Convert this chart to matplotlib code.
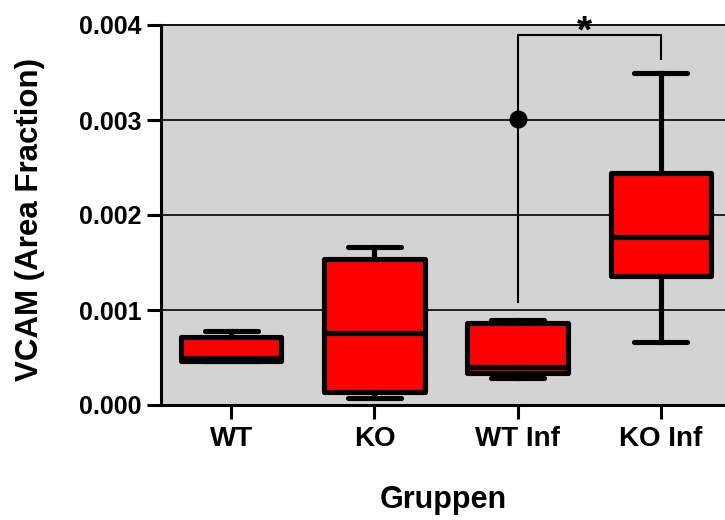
import matplotlib.pyplot as plt

plt.rcParams['font.family'] = ['Liberation Sans', 'DejaVu Sans']
plt.rcParams['font.weight'] = 'bold'

groups = ['WT', 'KO', 'WT Inf', 'KO Inf']
whis_low = [0.00046, 0.00007, 0.00028, 0.00066]
q1 = [0.00046, 0.00014, 0.00034, 0.00136]
median = [0.00050, 0.00076, 0.00040, 0.00177]
q3 = [0.00072, 0.00154, 0.00086, 0.00244]
whis_high = [0.00078, 0.00166, 0.00089, 0.00350]
outliers = [[], [], [0.00301], []]

# significance bracket between WT Inf and KO Inf
bracket_top = 0.00390
bracket_left_end = 0.00108
bracket_right_end = 0.00364

stats = []
for i, g in enumerate(groups):
    stats.append({'label': g, 'whislo': whis_low[i], 'q1': q1[i], 'med': median[i],
                  'q3': q3[i], 'whishi': whis_high[i], 'fliers': outliers[i]})

fig = plt.figure(figsize=(7.25, 5.2), dpi=100)
ax = fig.add_axes([161 / 725, 115 / 520, 564 / 725, 380 / 520])
ax.set_facecolor('#d3d3d3')

for y in [0.001, 0.002, 0.003]:
    ax.axhline(y, color='black', lw=1.2, zorder=1)

lw = 3.7
ax.bxp(stats, positions=[1, 2, 3, 4], widths=0.7, patch_artist=True,
       boxprops=dict(facecolor='red', edgecolor='black', linewidth=lw, joinstyle='round'),
       medianprops=dict(color='black', linewidth=lw),
       whiskerprops=dict(color='black', linewidth=lw),
       capprops=dict(color='black', linewidth=lw, solid_capstyle='round'),
       flierprops=dict(marker='o', markerfacecolor='black', markeredgecolor='black', markersize=12),
       capwidths=0.37, zorder=3)

ax.plot([3, 3, 4, 4], [bracket_left_end, bracket_top, bracket_top, bracket_right_end],
        color='black', lw=1.5, zorder=2, solid_joinstyle='miter')
ax.text(3.47, bracket_top + 0.00002, '*', ha='center', va='center', fontsize=28,
        fontweight='bold', clip_on=False)

ax.set_xlim(0.51, 4.448)
ax.set_ylim(0, 0.004)
ax.set_yticks([0, 0.001, 0.002, 0.003, 0.004])
ax.set_yticklabels(['0.000', '0.001', '0.002', '0.003', '0.004'])
ax.set_xticks([1, 2, 3, 4])
ax.set_xticklabels(groups)

ax.spines['right'].set_visible(False)
ax.spines['left'].set_linewidth(2.2)
ax.spines['bottom'].set_linewidth(2.2)
ax.spines['top'].set_linewidth(1.3)
ax.tick_params(axis='y', length=10, width=2.2, labelsize=18, pad=4)
ax.tick_params(axis='x', length=10, width=2.2, labelsize=20, pad=5)

ax.set_ylabel('VCAM (Area Fraction)', fontsize=22.5, fontweight='bold', va='center')
ax.yaxis.set_label_coords(-0.232, 0.487)
ax.set_xlabel('Gruppen', fontsize=22, fontweight='bold', va='center')
ax.xaxis.set_label_coords(0.5, -0.25)

fig.savefig('out.png', dpi=100)
